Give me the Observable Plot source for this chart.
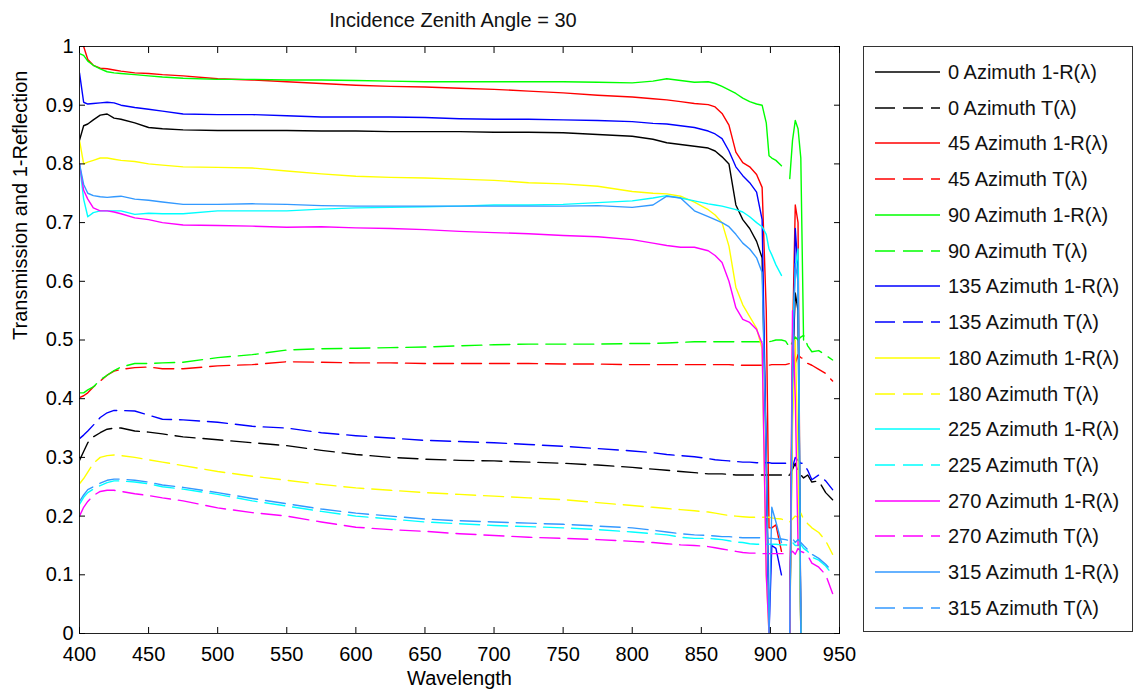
<!DOCTYPE html>
<html><head><meta charset="utf-8">
<script src="https://cdn.jsdelivr.net/npm/d3@7"></script>
<script src="https://cdn.jsdelivr.net/npm/@observablehq/plot@0.6"></script>
<style>
body{margin:0;background:#fff;font-family:"Liberation Sans",Arial,sans-serif;}
#wrap{position:relative;width:1135px;height:696px;overflow:hidden;background:#fff}
#title{position:absolute;left:73px;top:0;width:760px;height:36px;line-height:40px;text-align:center;font-size:20px;color:#111}
#chart{position:absolute;left:0;top:36px}
#legend{position:absolute;left:863px;top:46px;width:268px;height:584px;border:1px solid #333;background:#fff}
.item{position:absolute;left:0;height:30px;width:268px}
.item svg{position:absolute;left:0;top:0}
.item span{position:absolute;left:84px;top:0;line-height:30px;font-size:20px;color:#111;white-space:nowrap}
</style></head><body>
<div id="wrap"><div id="title">Incidence Zenith Angle = 30</div><div id="chart"></div><div id="legend"></div></div>
<script>
const W = [400,403,406,410,415,420,425,430,440,450,460,475,500,525,550,575,600,625,650,675,700,725,750,775,800,815,825,835,845,855,860,865,870,875,880,885,890,894,897,899,901,904,908,911,914,916,918,920,922,924,927,930,935,940,945];

const xTicks = [400,450,500,550,600,650,700,750,800,850,900,950];
const yTicks = [0,0.1,0.2,0.3,0.4,0.5,0.6,0.7,0.8,0.9,1];
const xLabel = "Wavelength";
const yLabel = "Transmission and 1-Reflection";

const az0_R = [0.84,0.865,0.868,0.875,0.883, 0.885,0.878,0.876,0.87,0.862, 0.86,0.858,0.857,0.857,0.857, 0.856,0.856,0.855,0.855,0.855, 0.854,0.854,0.853,0.85,0.847, 0.842,0.836,0.833,0.83,0.827, 0.822,0.812,0.80,0.73,0.705, 0.69,0.668,0.64,0.3,0, null,null,null,null,0, 0.45,0.58,0.55,0,null, null,null,null,null,null];
const az0_T = [0.295,0.31,0.325,0.335,0.342, 0.348,0.35,0.35,0.345,0.343, 0.34,0.335,0.33,0.325,0.32, 0.312,0.305,0.30,0.297,0.295, 0.294,0.292,0.29,0.287,0.283, 0.28,0.278,0.276,0.274,0.272, 0.272,0.272,0.271,0.27,0.27, 0.27,0.27,0.27,0.27,0.27, 0.27,0.27,0.27,0.268,0.27, 0.28,0.29,0.275,0.27,0.265, 0.27,0.258,0.26,0.24,0.228];
const az45_R = [null,1.0,0.978,0.968,0.963, 0.962,0.96,0.958,0.955,0.954, 0.952,0.95,0.945,0.943,0.94, 0.937,0.934,0.932,0.931,0.929, 0.927,0.924,0.921,0.917,0.914, 0.911,0.909,0.906,0.903,0.901, 0.897,0.886,0.866,0.82,0.802, 0.795,0.782,0.76,0.55,0.18, 0.18,0.185,0.14,null,0, 0.5,0.73,0.7,0,null, null,null,null,null,null];
const az45_T = [0.402,0.405,0.41,0.42,0.43, 0.44,0.447,0.45,0.453,0.454, 0.451,0.451,0.456,0.458,0.463, 0.462,0.461,0.461,0.46,0.46, 0.46,0.46,0.459,0.459,0.458, 0.458,0.458,0.458,0.458,0.458, 0.458,0.458,0.458,0.457,0.457, 0.457,0.457,0.457,0.457,0.457, 0.458,0.458,0.458,0.458,0.46, 0.47,0.46,0.475,0.47,0.468, 0.46,0.457,0.45,0.443,0.43];
const az90_R = [0.988,0.985,0.975,0.968,0.962, 0.957,0.955,0.954,0.952,0.95, 0.948,0.946,0.944,0.944,0.943, 0.943,0.942,0.941,0.94,0.94, 0.94,0.94,0.94,0.939,0.938, 0.941,0.945,0.942,0.939,0.94, 0.937,0.932,0.926,0.92,0.912, 0.906,0.902,0.9,0.87,0.814, 0.81,0.806,0.797,null,0.775, 0.84,0.874,0.86,0.81,0.5, null,null,null,null,null];
const az90_T = [0.41,0.41,0.415,0.42,0.432, 0.44,0.448,0.454,0.46,0.46, 0.461,0.462,0.47,0.475,0.483, 0.485,0.486,0.487,0.488,0.49, 0.492,0.493,0.493,0.493,0.494, 0.494,0.495,0.496,0.497,0.497, 0.497,0.497,0.497,0.497,0.497, 0.497,0.497,0.497,0.497,0.497, 0.498,0.5,0.5,0.498,0.487, 0.497,0.505,0.5,0.505,0.508, 0.49,0.48,0.482,0.474,0.466];
const az135_R = [0.955,0.905,0.902,0.903,0.904, 0.905,0.904,0.9,0.896,0.893, 0.89,0.885,0.884,0.884,0.882, 0.88,0.88,0.88,0.879,0.877, 0.876,0.876,0.875,0.874,0.872, 0.869,0.868,0.865,0.862,0.856, 0.851,0.843,0.822,0.795,0.78, 0.768,0.752,0.705,0.3,0, 0.15,0.145,0.1,null,0, 0.4,0.69,0.62,0,null, null,null,null,null,null];
const az135_T = [0.332,0.338,0.345,0.355,0.368, 0.376,0.38,0.38,0.379,0.372, 0.365,0.364,0.36,0.353,0.35, 0.342,0.337,0.333,0.329,0.327, 0.325,0.322,0.319,0.315,0.311, 0.308,0.305,0.303,0.301,0.298, 0.296,0.295,0.294,0.293,0.292, 0.292,0.291,0.291,0.291,0.291, 0.29,0.29,0.29,0.29,0.288, 0.283,0.3,0.295,0.29,0.29, 0.278,0.262,0.27,0.26,0.245];
const az180_R = [0.84,0.80,0.803,0.806,0.81, 0.81,0.808,0.806,0.804,0.80, 0.798,0.795,0.794,0.793,0.788, 0.783,0.779,0.777,0.776,0.774, 0.772,0.768,0.766,0.762,0.753, 0.75,0.749,0.745,0.735,0.722, 0.713,0.70,0.66,0.59,0.56, 0.54,0.52,0.485,0.1,0, null,null,null,null,0, 0.35,0.5,0.3,0,null, null,null,null,null,null];
const az180_T = [0.255,0.264,0.275,0.29,0.3, 0.303,0.304,0.303,0.3,0.296, 0.292,0.286,0.276,0.268,0.261, 0.254,0.248,0.244,0.24,0.237, 0.234,0.231,0.228,0.223,0.218, 0.215,0.213,0.211,0.209,0.207, 0.205,0.203,0.201,0.2,0.199, 0.198,0.198,0.198,0.198,0.198, 0.197,0.196,0.195,0.192,0.19, 0.195,0.2,0.198,0.205,0.195, 0.187,0.18,0.172,0.158,0.135];
const az225_R = [0.8,0.74,0.71,0.717,0.72, 0.72,0.72,0.72,0.714,0.716, 0.715,0.715,0.72,0.72,0.72, 0.723,0.725,0.726,0.727,0.728, 0.73,0.73,0.731,0.734,0.737, 0.742,0.746,0.742,0.737,0.732, 0.73,0.728,0.725,0.722,0.718, 0.71,0.70,0.693,0.68,0.655, 0.645,0.628,0.61,null,null, 0.5,0.62,0.655,0,null, null,null,null,null,null];
const az225_T = [0.22,0.232,0.24,0.246,0.252, 0.257,0.26,0.26,0.258,0.255, 0.25,0.246,0.237,0.226,0.217, 0.208,0.2,0.195,0.19,0.187, 0.184,0.182,0.18,0.177,0.173, 0.17,0.168,0.164,0.162,0.162, 0.161,0.16,0.158,0.156,0.155, 0.153,0.152,0.152,0.152,0.152, 0.152,0.152,0.151,0.151,0.15, 0.155,0.15,0.15,0.152,0.145, 0.14,0.13,0.125,0.115,0.1];
const az270_R = [0.8,0.755,0.74,0.725,0.72, 0.72,0.718,0.715,0.708,0.705, 0.70,0.696,0.695,0.694,0.692, 0.693,0.691,0.69,0.688,0.685, 0.683,0.681,0.678,0.676,0.671, 0.665,0.661,0.658,0.658,0.652, 0.644,0.632,0.60,0.555,0.535, 0.53,0.518,0.494,0.1,0, null,null,null,null,0, 0.55,0.4,0.15,null,null, null,null,null,null,null];
const az270_T = [0.2,0.215,0.225,0.235,0.242, 0.244,0.244,0.242,0.238,0.235, 0.231,0.226,0.214,0.206,0.2, 0.19,0.181,0.177,0.174,0.17, 0.167,0.164,0.162,0.16,0.157, 0.155,0.153,0.151,0.15,0.148, 0.146,0.144,0.142,0.14,0.138, 0.137,0.137,0.136,0.136,0.136, 0.136,0.136,0.136,0.136,0.136, 0.14,0.135,0.145,0.14,0.138, 0.133,0.12,0.113,0.1,0.068];
const az315_R = [0.8,0.765,0.75,0.746,0.744, 0.743,0.744,0.745,0.74,0.738, 0.735,0.731,0.731,0.732,0.731, 0.729,0.728,0.728,0.728,0.728, 0.728,0.728,0.728,0.729,0.726, 0.73,0.745,0.742,0.72,0.71, 0.705,0.70,0.693,0.68,0.665, 0.655,0.64,0.615,0.3,0, 0.215,0.19,0.155,null,0, 0.45,0.63,0.6,0,null, null,null,null,null,null];
const az315_T = [0.225,0.236,0.245,0.25,0.256, 0.261,0.263,0.263,0.261,0.258, 0.253,0.249,0.24,0.23,0.221, 0.212,0.205,0.2,0.195,0.192, 0.19,0.188,0.186,0.183,0.18, 0.176,0.173,0.17,0.168,0.167, 0.166,0.165,0.165,0.164,0.163, 0.163,0.163,0.163,0.162,0.162, 0.162,0.161,0.161,0.16,0.158, 0.162,0.155,0.16,0.155,0.15, 0.143,0.135,0.128,0.118,0.105];

const names = ["0 Azimuth 1-R(λ)","0 Azimuth T(λ)","45 Azimuth 1-R(λ)","45 Azimuth T(λ)","90 Azimuth 1-R(λ)","90 Azimuth T(λ)","135 Azimuth 1-R(λ)","135 Azimuth T(λ)","180 Azimuth 1-R(λ)","180 Azimuth T(λ)","225 Azimuth 1-R(λ)","225 Azimuth T(λ)","270 Azimuth 1-R(λ)","270 Azimuth T(λ)","315 Azimuth 1-R(λ)","315 Azimuth T(λ)"];
const colors = ["#000000","#000000","#ff0000","#ff0000","#00ff00","#00ff00","#0000ff","#0000ff","#ffff00","#ffff00","#00ffff","#00ffff","#ff00ff","#ff00ff","#3399ff","#3399ff"];
const dashed = [false,true,false,true,false,true,false,true,false,true,false,true,false,true,false,true];
const values = [az0_R,az0_T,az45_R,az45_T,az90_R,az90_T,az135_R,az135_T,az180_R,az180_T,az225_R,az225_T,az270_R,az270_T,az315_R,az315_T];

const DASH = "20,8";
const LW = 1.4;

const series = names.map((name, k) => ({
  name, color: colors[k], dash: dashed[k],
  rows: W.map((w, i) => ({w, v: values[k][i] == null ? NaN : values[k][i]}))
}));

const fmt = d => String(+d.toFixed(1));

const plot = Plot.plot({
  width: 860, height: 660,
  marginLeft: 79, marginRight: 21, marginTop: 10, marginBottom: 63,
  style: {fontFamily: "'Liberation Sans', Arial, sans-serif", fontSize: "20px", color: "#000", background: "white"},
  x: {domain: [400, 950]},
  y: {domain: [0, 1]},
  marks: [
    ...series.map(s => Plot.line(s.rows, {x: "w", y: "v", stroke: s.color, strokeWidth: LW, strokeDasharray: s.dash ? DASH : null, clip: true})),
    Plot.frame({stroke: "#222", strokeWidth: 1}),
    Plot.axisX({ticks: xTicks, tickSize: -6, tickPadding: 19, tickFormat: d => String(d), label: null, fontSize: 20}),
    Plot.axisX({anchor: "top", ticks: xTicks, tickSize: -6, tickFormat: () => "", label: null}),
    Plot.axisY({ticks: yTicks, tickSize: -6, tickPadding: 12, tickFormat: fmt, label: null, fontSize: 20}),
    Plot.axisY({anchor: "right", ticks: yTicks, tickSize: -6, tickFormat: () => "", label: null}),
    Plot.text([xLabel], {text: d => d, frameAnchor: "bottom", dy: 51, fontSize: 20}),
    Plot.text([yLabel], {text: d => d, frameAnchor: "left", dx: -59, rotate: -90, fontSize: 20})
  ]
});
document.getElementById("chart").appendChild(plot);

const legend = document.getElementById("legend");
series.forEach((s, i) => {
  const item = document.createElement("div");
  item.className = "item";
  item.style.top = (10 + i * 35.73) + "px";
  const ns = "http://www.w3.org/2000/svg";
  const svg = document.createElementNS(ns, "svg");
  svg.setAttribute("width", 80); svg.setAttribute("height", 30);
  const ln = document.createElementNS(ns, "line");
  ln.setAttribute("x1", 11); ln.setAttribute("x2", 76);
  ln.setAttribute("y1", 15); ln.setAttribute("y2", 15);
  ln.setAttribute("stroke", s.color); ln.setAttribute("stroke-width", LW);
  if (s.dash) ln.setAttribute("stroke-dasharray", DASH);
  svg.appendChild(ln);
  const sp = document.createElement("span");
  sp.textContent = s.name;
  item.appendChild(svg); item.appendChild(sp);
  legend.appendChild(item);
});
</script>
</body></html>
